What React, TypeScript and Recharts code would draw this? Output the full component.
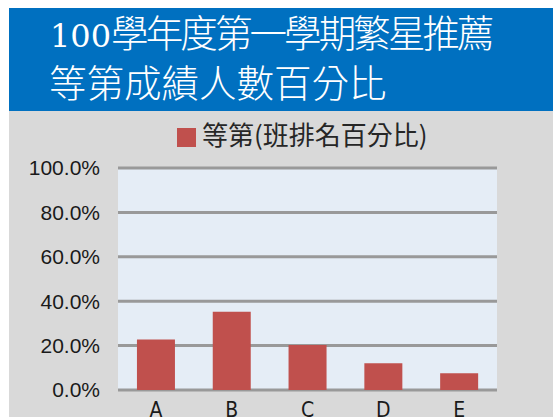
import { BarChart, Bar, XAxis, YAxis, CartesianGrid, Legend } from 'recharts'

const categories = ['A', 'B', 'C', 'D', 'E']
const shares = [0.228, 0.353, 0.203, 0.12, 0.075]
const yTicks = [0, 0.2, 0.4, 0.6, 0.8, 1]
const seriesName = '等第(班排名百分比)'
const titleYear = '100'
const titleLine1 = '學年度第一學期繁星推薦'
const titleLine2 = '等第成績人數百分比'

const data = categories.map((name, i) => ({ name, share: shares[i] }))

const pct = (v: number) => `${(v * 100).toFixed(1)}%`

function LegendBox(props: any) {
  const items = props.payload || []
  return (
    <div style={{ display: 'flex', alignItems: 'center', height: 30 }}>
      {items.map((item: any) => (
        <div key={item.value} style={{ display: 'flex', alignItems: 'center' }}>
          <span style={{ width: 19, height: 19, background: item.color, marginRight: 6 }} />
          <span
            style={{
              position: 'relative',
              top: -3,
              fontFamily: '"Noto Sans CJK TC", sans-serif',
              fontSize: 26,
              color: '#262626',
              lineHeight: '30px',
            }}
          >
            {item.value}
          </span>
        </div>
      ))}
    </div>
  )
}

const titleRow = {
  height: 50,
  lineHeight: '50px',
  whiteSpace: 'nowrap' as const,
  fontWeight: 300,
  fontFamily: '"Noto Sans CJK TC", sans-serif',
  fontSize: 37.5,
}

export default function App() {
  return (
    <>
      <style>{'body{margin:0;overflow:hidden}'}</style>
      <div style={{ position: 'absolute', left: 9, top: 8, width: 544, height: 409, background: '#d9d9d9' }}>
        <div style={{ display: 'flow-root', height: 103, background: '#0070c0', color: '#fff', paddingLeft: 41 }}>
          <div style={{ ...titleRow, marginTop: -2 }}>
            <span style={{ fontFamily: '"DejaVu Serif", serif', fontSize: 32, fontWeight: 400 }}>{titleYear}</span>
            <span style={{ letterSpacing: -2.9 }}>{titleLine1}</span>
          </div>
          <div style={{ ...titleRow, marginLeft: -1 }}>{titleLine2}</div>
        </div>
        <BarChart
          width={544}
          height={306}
          data={data}
          margin={{ top: 57, right: 56, bottom: 0, left: 0 }}
          barCategoryGap="25%"
        >
          <CartesianGrid vertical={false} stroke="#999999" strokeWidth={3} fill="#e5edf6" />
          <XAxis
            dataKey="name"
            height={27}
            axisLine={false}
            tickLine={false}
            tickSize={0}
            tickMargin={12}
            tick={{
              fill: '#1a1a1a',
              fontSize: 21,
              fontFamily: '"Liberation Sans Narrow", "DejaVu Sans Condensed", sans-serif',
            }}
          />
          <YAxis
            width={109}
            domain={[0, 1]}
            ticks={yTicks}
            tickFormatter={pct}
            axisLine={false}
            tickLine={false}
            tickSize={0}
            tickMargin={18}
            tick={{ fill: '#1a1a1a', fontSize: 21, fontFamily: '"Liberation Sans", Arial, sans-serif' }}
          />
          <Legend
            layout="horizontal"
            verticalAlign="middle"
            align="center"
            wrapperStyle={{ top: 11, left: 168, width: 'auto' }}
            content={LegendBox}
          />
          <Bar dataKey="share" name={seriesName} fill="#c0504d" isAnimationActive={false} />
        </BarChart>
      </div>
    </>
  )
}
